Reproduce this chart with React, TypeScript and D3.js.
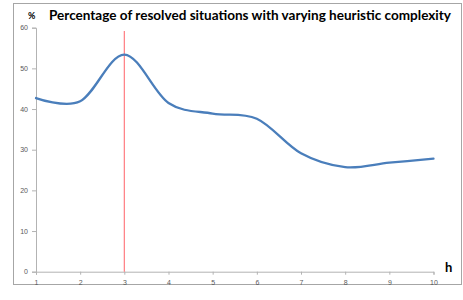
import { useEffect, useRef } from 'react';
import * as d3 from 'd3';

const hValues = [1, 2, 3, 4, 5, 6, 7, 8, 9, 10];
const resolvedPct = [42.7, 41.9, 53.4, 41.5, 38.9, 37.6, 29.1, 25.7, 26.8, 27.8];
const yTicks = [0, 10, 20, 30, 40, 50, 60];
const markerH = 3;

export default function App() {
  const svgRef = useRef<SVGSVGElement>(null);

  useEffect(() => {
    if (!svgRef.current) return;
    const svg = d3.select(svgRef.current);
    svg.selectAll('*').remove();

    const W = 463;
    const H = 300;

    // outer frame
    svg.append('rect')
      .attr('x', 13.5)
      .attr('y', 3.5)
      .attr('width', 448)
      .attr('height', 281)
      .attr('fill', '#fff')
      .attr('stroke', '#a6a6a6')
      .attr('stroke-width', 1);

    const xScale = d3.scaleLinear().domain([1, 10]).range([36, 433.5]);
    const yScale = d3.scaleLinear().domain([0, 60]).range([271.7, 27.7]);

    const labelFont = 'Liberation Sans, Arial, sans-serif';
    const titleFont = 'Lato, "Open Sans", sans-serif';

    // y axis
    const yAxis = svg.append('g')
      .attr('transform', `translate(${xScale(1)},0)`)
      .call(d3.axisLeft(yScale).tickValues(yTicks).tickSize(4).tickPadding(4).tickFormat(d3.format('d')));
    yAxis.select('.domain').attr('stroke', '#b3b3b3');
    yAxis.selectAll('.tick line').attr('stroke', '#b3b3b3');
    yAxis.selectAll('.tick text')
      .attr('fill', '#595959')
      .attr('font-size', 7)
      .attr('font-family', labelFont);

    // x axis
    const xAxis = svg.append('g')
      .attr('transform', `translate(0,${yScale(0)})`)
      .call(d3.axisBottom(xScale).tickValues(hValues).tickSize(3).tickPadding(5).tickFormat(d3.format('d')));
    xAxis.select('.domain').attr('stroke', '#b3b3b3');
    xAxis.selectAll('.tick line').attr('stroke', '#b3b3b3');
    xAxis.selectAll('.tick text')
      .attr('fill', '#595959')
      .attr('font-size', 7)
      .attr('font-family', labelFont);

    // red marker at h = 3
    svg.append('line')
      .attr('x1', xScale(markerH))
      .attr('x2', xScale(markerH))
      .attr('y1', 31)
      .attr('y2', yScale(0))
      .attr('stroke', '#ff7c80')
      .attr('stroke-width', 1.2);

    // smoothed line
    const line = d3.line<number>()
      .x((_, i) => xScale(hValues[i]))
      .y((d) => yScale(d))
      .curve(d3.curveCardinal.tension(0));

    svg.append('path')
      .datum(resolvedPct)
      .attr('fill', 'none')
      .attr('stroke', '#4a7ebb')
      .attr('stroke-width', 2.3)
      .attr('stroke-linecap', 'round')
      .attr('d', line);

    // title
    svg.append('text')
      .attr('x', 28)
      .attr('y', 19)
      .attr('font-family', titleFont)
      .attr('font-weight', 'bold')
      .attr('font-size', 9)
      .attr('fill', '#000')
      .text('%');

    svg.append('text')
      .attr('x', 49)
      .attr('y', 20)
      .attr('font-family', titleFont)
      .attr('font-weight', 'bold')
      .attr('font-size', 13)
      .attr('textLength', 402)
      .attr('lengthAdjust', 'spacingAndGlyphs')
      .attr('fill', '#000')
      .text('Percentage of resolved situations with varying heuristic complexity');

    svg.append('text')
      .attr('x', 445)
      .attr('y', 272)
      .attr('font-family', titleFont)
      .attr('font-weight', 'bold')
      .attr('font-size', 13)
      .attr('fill', '#000')
      .text('h');

    svg.attr('width', W).attr('height', H);
  }, []);

  return (
    <svg
      ref={svgRef}
      width={463}
      height={300}
      style={{ position: 'absolute', left: 0, top: 0, background: '#fff' }}
    />
  );
}
